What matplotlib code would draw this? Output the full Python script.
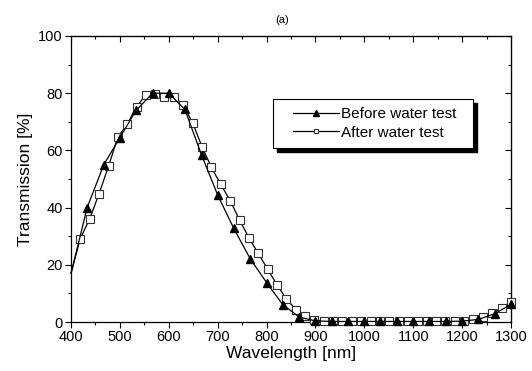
import matplotlib
matplotlib.use("Agg")
import matplotlib.pyplot as plt
from matplotlib.patches import Rectangle
from matplotlib.ticker import MultipleLocator

plt.rcParams['font.family'] = ['Liberation Sans', 'DejaVu Sans']

# Before water test (filled triangles), first point at 400 nm has no marker
before_x = [400, 433, 467, 500, 533, 567, 600, 633, 667, 700, 733, 767, 800, 833,
            867, 900, 933, 967, 1000, 1033, 1067, 1100, 1133, 1167, 1200, 1233, 1267, 1300]
before_y = [17.0, 40.0, 55.0, 64.5, 74.0, 80.0, 80.0, 74.3, 58.4, 44.4, 32.7, 22.0, 13.8, 6.1,
            1.7, 0.4, 0.2, 0.2, 0.2, 0.2, 0.2, 0.2, 0.2, 0.2, 0.3, 0.9, 2.9, 6.2]

# After water test (open squares)
after_x = [400, 419, 438, 457, 477, 496, 515, 534, 553, 572, 591, 611, 630, 649, 668,
           687, 706, 726, 745, 764, 783, 802, 821, 840, 860, 879, 898, 917, 936, 955,
           974, 994, 1013, 1032, 1051, 1070, 1089, 1109, 1128, 1147, 1166, 1185, 1204,
           1223, 1243, 1262, 1281, 1300]
after_y = [17.0, 29.2, 36.0, 44.7, 54.6, 64.8, 69.1, 75.3, 79.4, 79.8, 78.8, 78.6, 75.7, 69.5, 61.3,
           54.1, 48.2, 42.3, 35.6, 29.4, 24.0, 18.5, 13.1, 8.2, 4.3, 2.0, 0.8, 0.3, 0.2, 0.2,
           0.2, 0.2, 0.2, 0.2, 0.2, 0.2, 0.2, 0.2, 0.2, 0.2, 0.2, 0.2, 0.3,
           0.9, 1.7, 3.1, 5.0, 7.0]

fig, ax = plt.subplots(figsize=(5.32, 3.71), dpi=100)
fig.subplots_adjust(left=0.1335, right=0.9605, top=0.903, bottom=0.132)

ax.plot(after_x, after_y, color='k', linewidth=0.9, marker='s', markersize=5.3,
        markerfacecolor='white', markeredgecolor='#333333', markeredgewidth=0.8,
        markevery=list(range(1, len(after_x))), clip_on=False, zorder=3,
        label='After water test')
ax.plot(before_x, before_y, color='k', linewidth=0.9, marker='^', markersize=6.2,
        markerfacecolor='k', markeredgecolor='k',
        markevery=list(range(1, len(before_x))), clip_on=False, zorder=4,
        label='Before water test')

ax.set_xlim(400, 1300)
ax.set_ylim(0, 100)
ax.xaxis.set_major_locator(MultipleLocator(100))
ax.xaxis.set_minor_locator(MultipleLocator(50))
ax.yaxis.set_major_locator(MultipleLocator(20))
ax.yaxis.set_minor_locator(MultipleLocator(10))
ax.tick_params(which='major', direction='out', length=4, width=0.8, labelsize=10.5, pad=2)
ax.tick_params(which='minor', direction='out', length=2.5, width=0.8)
for s in ax.spines.values():
    s.set_linewidth(0.9)

# mirror ticks pointing inward on top and right
top = ax.secondary_xaxis('top')
top.xaxis.set_major_locator(MultipleLocator(100))
top.xaxis.set_minor_locator(MultipleLocator(50))
top.tick_params(which='major', direction='in', length=4, width=0.8, labeltop=False)
top.tick_params(which='minor', direction='in', length=2.5, width=0.8)
right = ax.secondary_yaxis('right')
right.yaxis.set_major_locator(MultipleLocator(20))
right.yaxis.set_minor_locator(MultipleLocator(10))
right.tick_params(which='major', direction='in', length=4, width=0.8, labelright=False)
right.tick_params(which='minor', direction='in', length=2.5, width=0.8)

ax.set_xlabel("Wavelength [nm]", fontsize=12.5, labelpad=1)
ax.set_ylabel("Transmission [%]", fontsize=12.5, labelpad=4)
fig.text(0.53, 0.946, "(a)", fontsize=8, ha='center', va='center')

# legend box with solid shadow
bx, by, bw, bh = 0.459, 0.608, 0.455, 0.172
ax.add_patch(Rectangle((bx + 0.009, by - 0.014), bw, bh, transform=ax.transAxes,
                       facecolor='k', edgecolor='k', zorder=5, clip_on=False))
ax.add_patch(Rectangle((bx, by), bw, bh, transform=ax.transAxes,
                       facecolor='white', edgecolor='k', linewidth=0.8, zorder=6, clip_on=False))
handles, labels = ax.get_legend_handles_labels()
leg = ax.legend(handles[::-1], labels[::-1], loc='center left',
                bbox_to_anchor=(0.504, by + bh / 2), frameon=False, fontsize=11,
                handlelength=3.0, handletextpad=0.15, labelspacing=0.3,
                borderpad=0, borderaxespad=0, numpoints=1, markerscale=0.65)
leg.set_zorder(7)

fig.savefig("out.png", dpi=100)
